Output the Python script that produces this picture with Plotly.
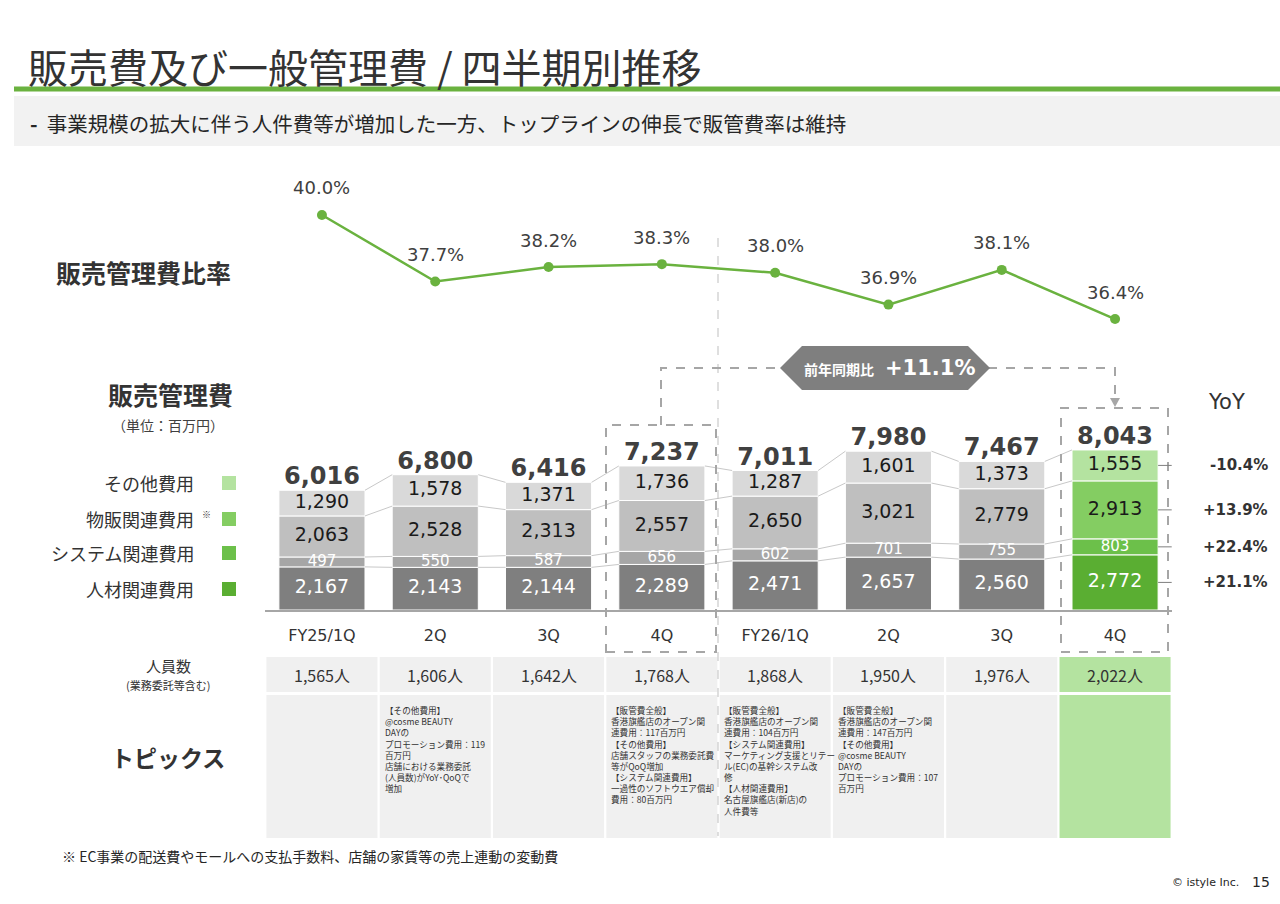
import plotly.graph_objects as go

W, H = 1280, 904

quarters = ["FY25/1Q", "2Q", "3Q", "4Q", "FY26/1Q", "2Q", "3Q", "4Q"]
sga_ratio = [40.0, 37.7, 38.2, 38.3, 38.0, 36.9, 38.1, 36.4]
personnel = [2167, 2143, 2144, 2289, 2471, 2657, 2560, 2772]
system_cost = [497, 550, 587, 656, 602, 701, 755, 803]
sales_cost = [2063, 2528, 2313, 2557, 2650, 3021, 2779, 2913]
other_cost = [1290, 1578, 1371, 1736, 1287, 1601, 1373, 1555]
totals = [6016, 6800, 6416, 7237, 7011, 7980, 7467, 8043]
headcount = ["1,565人", "1,606人", "1,642人", "1,768人", "1,868人", "1,950人", "1,976人", "2,022人"]
yoy_labels = ["+21.1%", "+22.4%", "+13.9%", "-10.4%"]   # 人材, システム, 物販, その他
yoy_total = "+11.1%"
series_names = ["人材関連費用", "システム関連費用", "物販関連費用", "その他費用"]

topics = [
    [],
    ["【その他費用】", "@cosme BEAUTY", "DAYの", "プロモーション費用：119", "百万円",
     "店舗における業務委託", "(人員数)がYoY･QoQで", "増加"],
    [],
    ["【販管費全般】", "香港旗艦店のオープン関", "連費用：117百万円", "【その他費用】",
     "店舗スタッフの業務委託費", "等がQoQ増加", "【システム関連費用】",
     "一過性のソフトウエア償却", "費用：80百万円"],
    ["【販管費全般】", "香港旗艦店のオープン関", "連費用：104百万円", "【システム関連費用】",
     "マーケティング支援とリテー", "ル(EC)の基幹システム改", "修", "【人材関連費用】",
     "名古屋旗艦店(新店)の", "人件費等"],
    ["【販管費全般】", "香港旗艦店のオープン関", "連費用：147百万円", "【その他費用】",
     "@cosme BEAUTY", "DAYの", "プロモーション費用：107", "百万円"],
    [],
    [],
]

JP = "Noto Sans CJK JP"
NUM = "DejaVu Sans"
GREEN = "#6ab23f"
gray_cols = ["#7f7f7f", "#a6a6a6", "#bfbfbf", "#d9d9d9"]
green_cols = ["#5aae32", "#6cc04a", "#84cd62", "#b4e3a0"]
txt_cols = ["white", "white", "#1a1a1a", "#1a1a1a"]
txt_size = [19, 15, 19, 19]


def px(x):
    return x / W


def py(y):
    return 1 - y / H


ann = []


def note(x, y, text, size, family=JP, color="#333333", xref="paper", yref="paper",
         xanchor="center", yanchor="middle", **kw):
    ann.append(dict(x=x, y=y, xref=xref, yref=yref, text=text, showarrow=False, xanchor=xanchor,
                    yanchor=yanchor, font=dict(family=family, size=size, color=color), **kw))


xs = list(range(len(quarters)))
n = len(xs)
BW = 0.76

fig = go.Figure()

# stacked bars
stack = [personnel, system_cost, sales_cost, other_cost]
base = [0] * n
bases = []
for k, vals in enumerate(stack):
    cols = [gray_cols[k]] * (n - 1) + [green_cols[k]]
    fig.add_trace(go.Bar(x=xs, y=vals, base=base, width=BW, marker=dict(color=cols, line=dict(color="white", width=1)),
                         name=series_names[k], showlegend=False, hoverinfo="skip", xaxis="x", yaxis="y"))
    bases.append(base)
    base = [b + v for b, v in zip(base, vals)]
tops = base

# series lines between bars
lx, ly = [], []
for k in range(len(stack)):
    lvl = [b + v for b, v in zip(bases[k], stack[k])]
    for i in range(n - 1):
        lx += [i + BW / 2, i + 1 - BW / 2, None]
        ly += [lvl[i], lvl[i + 1], None]
fig.add_trace(go.Scatter(x=lx, y=ly, mode="lines", line=dict(color="#c8c8c8", width=1),
                         showlegend=False, hoverinfo="skip", xaxis="x", yaxis="y"))

# segment labels
for k, vals in enumerate(stack):
    mids = [b + v / 2 for b, v in zip(bases[k], vals)]
    fig.add_trace(go.Scatter(x=xs, y=mids, mode="text", text=[f"{v:,}" for v in vals],
                             textfont=dict(family=NUM, size=txt_size[k], color=txt_cols[k]),
                             showlegend=False, hoverinfo="skip", xaxis="x", yaxis="y"))

# totals
fig.add_trace(go.Scatter(x=xs, y=tops, mode="text", text=[f"<b>{v:,}</b>" for v in totals],
                         textposition="top center", textfont=dict(family=NUM, size=24, color="#404040"),
                         showlegend=False, hoverinfo="skip", xaxis="x", yaxis="y"))

# ratio line
fig.add_trace(go.Scatter(x=xs, y=sga_ratio, mode="lines+markers", line=dict(color=GREEN, width=2.5),
                         marker=dict(color=GREEN, size=10), showlegend=False, hoverinfo="skip",
                         xaxis="x2", yaxis="y2"))

for i, v in enumerate(sga_ratio):
    note(i, v, f"{v:.1f}%", 18, family=NUM, color="#404040", xref="x2", yref="y2", yshift=27)

shapes = []
# header
note(px(26), py(66), "販売費及び一般管理費 / 四半期別推移", 40, xanchor="left")
shapes.append(dict(type="line", xref="paper", yref="paper", x0=px(14), x1=1, y0=py(89), y1=py(89),
                   line=dict(color=GREEN, width=5)))
shapes.append(dict(type="rect", xref="paper", yref="paper", x0=px(14), x1=1, y0=py(96), y1=py(146),
                   fillcolor="#f2f2f2", line=dict(width=0), layer="below"))
note(px(28), py(123), "<b>-</b>  事業規模の拡大に伴う人件費等が増加した一方、トップラインの伸長で販管費率は維持",
     20.5, color="#262626", xanchor="left")

# left labels
note(px(143), py(272), "<b>販売管理費比率</b>", 25)
note(px(170), py(394), "<b>販売管理費</b>", 25)
note(px(168), py(425), "（単位：百万円）", 14, color="#404040")
leg_y = [589, 553, 519, 483]
for k in range(len(series_names)):
    note(px(196), py(leg_y[k]), series_names[k], 18, xanchor="right")
    shapes.append(dict(type="rect", xref="paper", yref="paper", x0=px(222), x1=px(236),
                       y0=py(leg_y[k] + 7), y1=py(leg_y[k] - 7), fillcolor=green_cols[k], line=dict(width=0)))
note(px(206), py(514), "※", 9)
note(px(168), py(665), "人員数", 15)
note(px(168), py(685), "(業務委託等含む)", 11)
note(px(168), py(757), "<b>トピックス</b>", 23)

# headcount + topics cells
for i in xs:
    fc = "#b4e3a0" if i == n - 1 else "#f0f0f0"
    shapes.append(dict(type="rect", xref="x", yref="paper", x0=i - 0.49, x1=i + 0.49, y0=py(692), y1=py(657),
                       fillcolor=fc, line=dict(width=0), layer="below"))
    shapes.append(dict(type="rect", xref="x", yref="paper", x0=i - 0.49, x1=i + 0.49, y0=py(838), y1=py(695),
                       fillcolor=fc, line=dict(width=0), layer="below"))
    note(i, py(675), headcount[i], 16, xref="x")
    if topics[i]:
        note(i - 0.465, py(702), "<br>".join(topics[i]), 8.6, xref="x", xanchor="left", yanchor="top",
             align="left")

# separator + dashed comparison boxes
DASH = dict(color="#a6a6a6", width=2, dash="dash")
shapes.append(dict(type="line", xref="paper", yref="paper", x0=px(718), x1=px(718), y0=py(238), y1=py(836),
                   line=dict(color="#bfbfbf", width=1, dash="dash")))
shapes.append(dict(type="rect", xref="paper", yref="paper", x0=px(606), x1=px(716), y0=py(652), y1=py(425),
                   line=DASH))
shapes.append(dict(type="rect", xref="paper", yref="paper", x0=px(1061), x1=px(1168), y0=py(652), y1=py(408),
                   line=DASH))
shapes.append(dict(type="path", xref="paper", yref="paper",
                   path=f"M {px(661)},{py(425)} L {px(661)},{py(368)} L {px(782)},{py(368)} "
                        f"M {px(988)},{py(368)} L {px(1115)},{py(368)} L {px(1115)},{py(400)}",
                   line=DASH))
shapes.append(dict(type="path", xref="paper", yref="paper",
                   path=f"M {px(1110)},{py(398)} L {px(1120)},{py(398)} L {px(1115)},{py(407)} Z",
                   fillcolor="#a6a6a6", line=dict(width=0)))
shapes.append(dict(type="path", xref="paper", yref="paper",
                   path=f"M {px(780)},{py(368)} L {px(802)},{py(346)} L {px(968)},{py(346)} L {px(990)},{py(368)} "
                        f"L {px(968)},{py(390)} L {px(802)},{py(390)} Z",
                   fillcolor="#7f7f7f", line=dict(width=0)))
note(px(876), py(369), "<b>前年同期比</b>", 14, color="white", xanchor="right")
note(px(883), py(368), f"<b>{yoy_total}</b>", 21, family=NUM, color="white", xanchor="left")

# YoY column
note(px(1226), py(402), "YoY", 21, family=NUM)
for k in range(len(stack)):
    mid = bases[k][-1] + stack[k][-1] / 2
    shapes.append(dict(type="line", xref="x", yref="y", x0=n - 1 + BW / 2, x1=n - 1 + 0.64, y0=mid, y1=mid,
                       line=dict(color="#7f7f7f", width=1)))
    note(px(1270), mid, f"<b>{yoy_labels[k]}</b>", 15, family=NUM, yref="y", xanchor="right")

# footer
note(px(60), py(856), "※ EC事業の配送費やモールへの支払手数料、店舗の家賃等の売上連動の変動費", 14,
     color="#262626", xanchor="left")
note(px(1241), py(882), "© istyle Inc.", 11, family=NUM, color="#262626", xanchor="right")
note(px(1272), py(882), "15", 14, family=NUM, color="#262626", xanchor="right")

fig.update_layout(
    width=W, height=H, margin=dict(l=0, r=0, t=0, b=0), plot_bgcolor="white", paper_bgcolor="white",
    barmode="overlay",
    xaxis=dict(domain=[px(265.3), px(1171.7)], range=[-0.5, 7.5], tickvals=xs, ticktext=quarters,
               showgrid=False, zeroline=False, showline=True, linecolor="#a6a6a6", linewidth=1.5,
               ticks="", ticklabelstandoff=10, tickfont=dict(family=NUM, size=16, color="#333333")),
    yaxis=dict(domain=[py(610), py(411)], range=[0, 10000], visible=False),
    xaxis2=dict(domain=[px(265.3), px(1171.7)], range=[-0.5, 7.5], anchor="y2", visible=False),
    yaxis2=dict(domain=[py(340), py(180)], range=[35.675, 41.211], anchor="x2", visible=False),
    shapes=shapes, annotations=ann,
)

fig.write_html("out.html", config={"displayModeBar": False},
               post_script="document.body.style.margin='0';document.body.style.overflow='hidden';")
